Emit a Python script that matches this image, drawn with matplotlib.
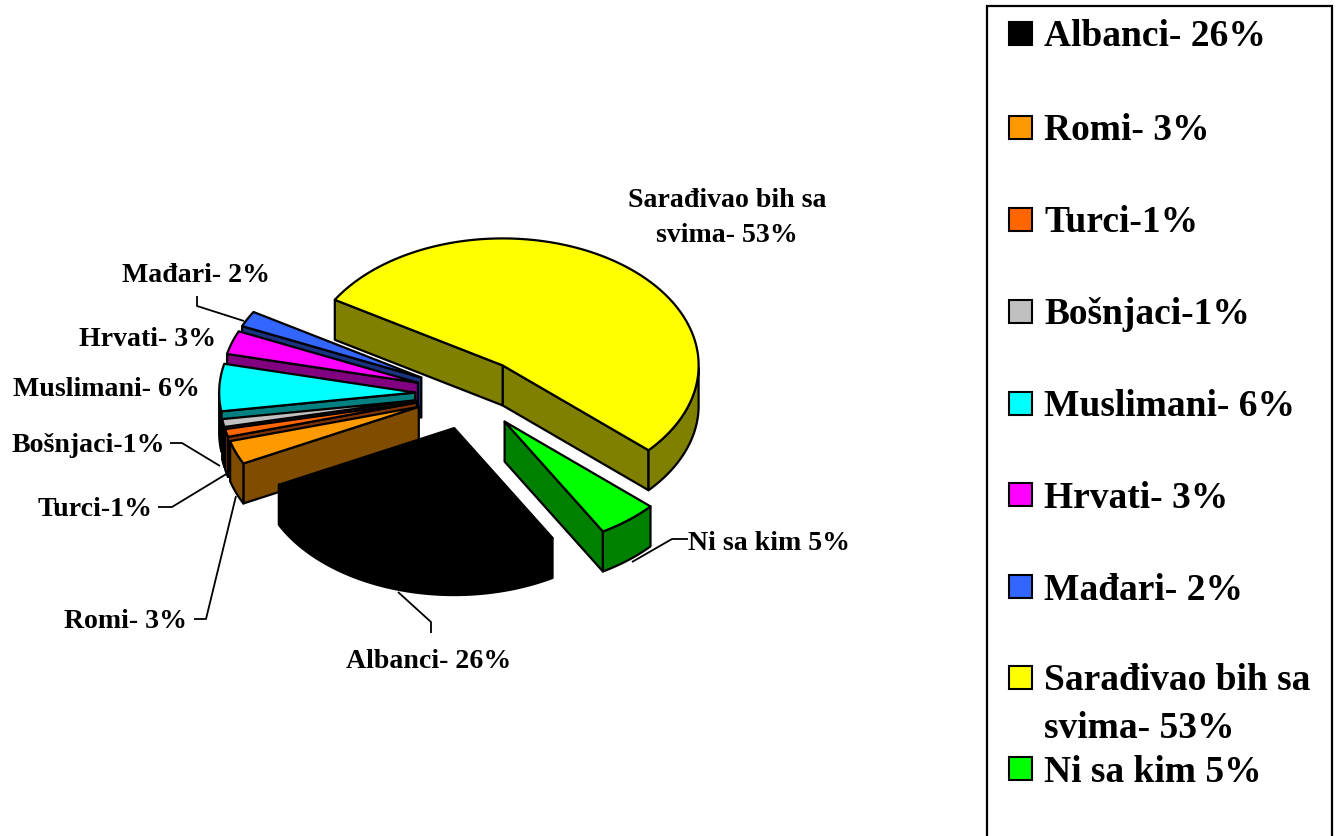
import numpy as np
import matplotlib
matplotlib.use("Agg")
import matplotlib.pyplot as plt
from matplotlib.patches import Polygon, Rectangle

# ---- data (legend / clockwise order) ----
categories = ["Albanci", "Romi", "Turci", "Bošnjaci", "Muslimani", "Hrvati", "Mađari", "Sarađivao bih sa svima", "Ni sa kim"]
values = [26, 3, 1, 1, 6, 3, 2, 53, 5]
top_colors = ["#000000", "#FF9900", "#FF6600", "#C0C0C0", "#00FFFF", "#FF00FF", "#3366FF", "#FFFF00", "#00FF00"]
wall_colors = ["#000000", "#804D00", "#803300", "#606060", "#008080", "#800080", "#1A3380", "#808000", "#008000"]
legend_labels = ["Albanci- 26%", "Romi- 3%", "Turci-1%", "Bošnjaci-1%", "Muslimani- 6%", "Hrvati- 3%", "Mađari- 2%",
                 "Sarađivao bih sa\nsvima- 53%", "Ni sa kim 5%"]

# ---- layout ----
W, H = 1339, 836
CX, CY, RX, RY, DEPTH, EXPLODE = 470, 394, 196, 127, 40, 0.28
START_T = 206.5   # ellipse parameter (deg, counter-clockwise) where Albanci begins
FONT = "Liberation Serif"

fig = plt.figure(figsize=(W / 100, H / 100), dpi=100)
ax = fig.add_axes([0, 0, 1, 1])
ax.set_xlim(0, W)
ax.set_ylim(H, 0)
ax.axis("off")

frac = np.array(values) / sum(values) * 360

def pt(ang, ax0, ay0, dz=0):
    a = np.radians(ang)
    return ax0 + RX * np.cos(a), ay0 - RY * np.sin(a) + dz

# Angles ccw from Albanci's start: Albanci, Ni sa kim, Sarađivao, Mađari, Hrvati, Muslimani, Bošnjaci, Turci, Romi
ccw_order = [0, 8, 7, 6, 5, 4, 3, 2, 1]
span = {}
t = START_T
for i in ccw_order:
    span[i] = (t, t + frac[i])
    t += frac[i]

# painter's order, back to front
draw_order = [7, 6, 5, 4, 3, 2, 1, 8, 0]
lw = 1.6
for i in draw_order:
    t0, t1 = span[i]
    mid = np.radians((t0 + t1) / 2)
    ax0 = CX + EXPLODE * RX * np.cos(mid)
    ay0 = CY - EXPLODE * RY * np.sin(mid)
    ts = np.linspace(t0, t1, 160)
    rim = [pt(a, ax0, ay0) for a in ts]
    wall = wall_colors[i]
    kw = dict(closed=True, ec="black", lw=lw, joinstyle="round")
    # radial walls, only those turned towards the viewer
    for a, normal in ((t0, t0 - 90), (t1, t1 + 90)):
        if np.sin(np.radians(normal)) < 0:
            p = pt(a, ax0, ay0)
            q = pt(a, ax0, ay0, DEPTH)
            ax.add_patch(Polygon([(ax0, ay0), p, q, (ax0, ay0 + DEPTH)], fc=wall, **kw))
    # outer wall, front part of the rim only
    front = ts[np.sin(np.radians(ts)) < 0]
    if len(front) > 1:
        upper = [pt(a, ax0, ay0) for a in front]
        lower = [pt(a, ax0, ay0, DEPTH) for a in front]
        ax.add_patch(Polygon(upper + lower[::-1], fc=wall, **kw))
    # top face
    ax.add_patch(Polygon([(ax0, ay0)] + rim, fc=top_colors[i], **kw))

# data labels: text, left x, centre y
data_labels = [
    ("Mađari- 2%", 122, 276), ("Hrvati- 3%", 79, 339), ("Muslimani- 6%", 13, 390),
    ("Bošnjaci-1%", 12, 446), ("Turci-1%", 38, 510), ("Romi- 3%", 64, 621),
    ("Albanci- 26%", 346, 661), ("Ni sa kim 5%", 688, 543),
]
for s, x, y in data_labels:
    ax.text(x, y, s, family=FONT, weight="bold", fontsize=20.1, ha="left", va="center", color="black")
ax.text(727, 218, "Sarađivao bih sa\nsvima- 53%", family=FONT, weight="bold", fontsize=20.1,
        ha="center", va="center", linespacing=1.55, color="black")

# leader lines
leaders = [
    [(197, 296), (197, 306), (244, 321)],
    [(170, 443), (182, 443), (220, 466)],
    [(158, 507), (172, 507), (228, 473)],
    [(194, 619), (206, 619), (236, 496)],
    [(431, 633), (431, 622), (398, 592)],
    [(688, 539), (672, 539), (632, 562)],
]
for seg in leaders:
    xs, ys = zip(*seg)
    ax.plot(xs, ys, color="black", lw=1.3, solid_capstyle="butt")

# legend frame (runs off the bottom of the picture)
ax.add_patch(Rectangle((987, 6), 345, 900, fc="white", ec="black", lw=1.6, clip_on=True))
legend_y = [33, 127, 219, 311, 403, 494, 586, 677, 768]
for lab, c, y in zip(legend_labels, top_colors, legend_y):
    ax.add_patch(Rectangle((1009, y - 11), 23, 23, fc=c, ec="black", lw=1.5))
    for k, line in enumerate(lab.split("\n")):
        ax.text(1044, y + 4 + k * 47, line, family=FONT, weight="bold", fontsize=27,
                ha="left", va="center", color="black")

fig.savefig("out.png", dpi=100, facecolor="white")
